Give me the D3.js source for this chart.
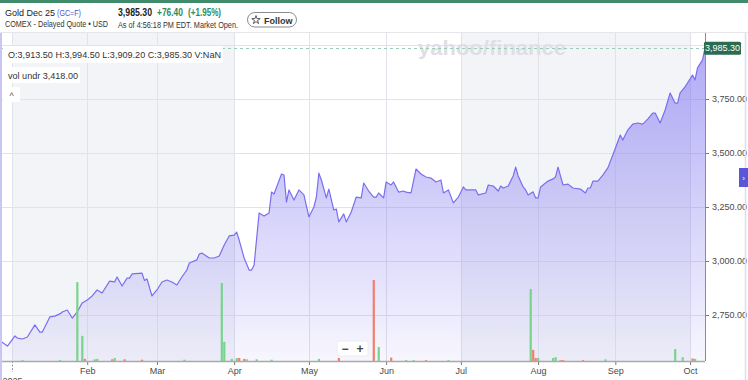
<!DOCTYPE html>
<html>
<head>
<meta charset="utf-8">
<script src="https://cdn.jsdelivr.net/npm/d3@7"></script>
<style>
html, body { margin: 0; padding: 0; background: #fff; }
svg { display: block; font-family: "Liberation Sans", Arial, sans-serif; }
</style>
</head>
<body>
<svg id="chart" width="748" height="380"></svg>
<script>
// Daily closes (Gold Dec 25, GC=F)
var priceDates = ["2024-12-27","2024-12-31","2025-01-03","2025-01-04","2025-01-06","2025-01-08","2025-01-11","2025-01-13","2025-01-14","2025-01-17","2025-01-19","2025-01-21","2025-01-22","2025-01-24","2025-01-26","2025-01-28","2025-01-30","2025-02-01","2025-02-02","2025-02-03","2025-02-05","2025-02-07","2025-02-10","2025-02-12","2025-02-13","2025-02-15","2025-02-17","2025-02-18","2025-02-19","2025-02-23","2025-02-24","2025-02-25","2025-02-27","2025-03-01","2025-03-03","2025-03-05","2025-03-07","2025-03-09","2025-03-11","2025-03-13","2025-03-14","2025-03-17","2025-03-18","2025-03-19","2025-03-22","2025-03-24","2025-03-26","2025-03-28","2025-03-30","2025-04-01","2025-04-02","2025-04-03","2025-04-05","2025-04-07","2025-04-08","2025-04-09","2025-04-11","2025-04-13","2025-04-15","2025-04-16","2025-04-17","2025-04-20","2025-04-21","2025-04-22","2025-04-23","2025-04-25","2025-04-27","2025-04-29","2025-05-01","2025-05-03","2025-05-04","2025-05-05","2025-05-06","2025-05-08","2025-05-09","2025-05-11","2025-05-12","2025-05-13","2025-05-15","2025-05-16","2025-05-18","2025-05-20","2025-05-22","2025-05-23","2025-05-25","2025-05-27","2025-05-28","2025-05-29","2025-05-31","2025-06-01","2025-06-03","2025-06-04","2025-06-06","2025-06-08","2025-06-09","2025-06-11","2025-06-13","2025-06-15","2025-06-17","2025-06-19","2025-06-21","2025-06-23","2025-06-24","2025-06-26","2025-06-28","2025-06-30","2025-07-02","2025-07-03","2025-07-07","2025-07-08","2025-07-11","2025-07-12","2025-07-14","2025-07-16","2025-07-17","2025-07-18","2025-07-20","2025-07-22","2025-07-23","2025-07-24","2025-07-26","2025-07-27","2025-07-28","2025-07-30","2025-07-31","2025-08-01","2025-08-02","2025-08-05","2025-08-07","2025-08-08","2025-08-09","2025-08-11","2025-08-13","2025-08-15","2025-08-18","2025-08-20","2025-08-21","2025-08-22","2025-08-23","2025-08-25","2025-08-27","2025-08-29","2025-08-31","2025-09-03","2025-09-04","2025-09-06","2025-09-08","2025-09-10","2025-09-12","2025-09-14","2025-09-16","2025-09-17","2025-09-19","2025-09-21","2025-09-23","2025-09-25","2025-09-26","2025-09-27","2025-09-29","2025-10-02","2025-10-03","2025-10-04","2025-10-06","2025-10-07"];
var priceValues = [2639,2606,2653,2643,2639,2648,2704,2671,2671,2741,2745,2755,2764,2773,2736,2764,2806,2819,2829,2838,2866,2852,2907,2903,2926,2884,2921,2921,2940,2944,2910,2917,2838,2866,2903,2912,2903,2889,2926,2958,2991,3005,3032,3037,3014,3014,3023,3074,3116,3120,3134,3097,3014,2958,2958,2981,3222,3208,3222,3319,3310,3403,3398,3273,3329,3282,3329,3306,3204,3250,3296,3407,3375,3292,3333,3236,3241,3181,3218,3181,3227,3296,3292,3361,3324,3296,3296,3315,3292,3366,3352,3366,3319,3324,3319,3315,3426,3403,3389,3384,3366,3375,3315,3329,3269,3296,3343,3329,3329,3306,3315,3352,3347,3324,3347,3338,3347,3394,3435,3394,3343,3329,3306,3320,3292,3292,3343,3370,3380,3389,3435,3352,3356,3338,3333,3315,3338,3338,3370,3370,3398,3431,3491,3583,3560,3606,3634,3639,3634,3657,3685,3685,3639,3699,3778,3731,3731,3778,3806,3861,3838,3894,3931,3985.3];

// Volume (thousands), true = up day
var volDates = ["2025-01-06","2025-01-21","2025-01-28","2025-01-30","2025-01-31","2025-02-04","2025-02-05","2025-02-11","2025-02-12","2025-02-16","2025-02-23","2025-03-12","2025-03-27","2025-03-28","2025-03-31","2025-04-02","2025-04-03","2025-04-05","2025-04-06","2025-04-10","2025-04-16","2025-05-05","2025-05-13","2025-05-27","2025-05-29","2025-06-03","2025-06-09","2025-06-12","2025-06-17","2025-06-26","2025-07-29","2025-07-30","2025-07-31","2025-08-01","2025-08-07","2025-08-08","2025-08-10","2025-08-11","2025-08-19","2025-08-28","2025-09-25","2025-09-28","2025-10-02","2025-10-03"];
var volValues = [2,2,185,59,5,4,5,4,7,4,3,3,183,45,5,7,7,5,4,4,3,5,7,190,33,8,2,2,2,2,169,26,7,7,7,9,2,2,2,4,28,9,6,5];
var volUp = [true,true,true,true,false,true,true,false,true,false,false,true,true,true,true,true,false,false,true,true,true,true,false,false,true,false,true,true,false,true,true,false,false,true,true,true,false,false,false,true,true,true,false,true];

var yTicks = [2750, 3000, 3250, 3500, 3750];
var yGrid = [2750, 3000, 3250, 3500, 3750, 4000];
var monthTicks = ["2025-02-01","2025-03-01","2025-04-01","2025-05-01","2025-06-01","2025-07-01","2025-08-01","2025-09-01","2025-10-01"];
var monthLabels = ["Feb","Mar","Apr","May","Jun","Jul","Aug","Sep","Oct"];
var yearTick = "2025-01-02";
var yearLabel = "2025";
var shadeBands = [["2025-01-02","2025-04-01"],["2025-07-01","2025-10-01"]];
var lastPrice = 3985.30;

var parse = d3.timeParse("%Y-%m-%d");
var data = priceDates.map(function(d, i) { return { date: parse(d), value: priceValues[i] }; });
var vols = volDates.map(function(d, i) { return { date: parse(d), value: volValues[i], up: volUp[i] }; });

var plotLeft = 0, plotRight = 705, plotTop = 33, plotBottom = 361;

var x = d3.scaleTime()
    .domain([parse("2024-12-28"), parse("2025-10-07")])
    .range([plotLeft, plotRight]);

var y = d3.scaleLinear()
    .domain([2750, 3750])
    .range([315, 99]);

var yVol = d3.scaleLinear()
    .domain([0, 190])
    .range([plotBottom, plotBottom - 81]);

var svg = d3.select('#chart');

// top green strip + header
svg.append('rect').attr('x', 0).attr('y', 0).attr('width', 748).attr('height', 3).attr('fill', '#3f8b6c');

var hdr = svg.append('g').attr('class', 'header');
hdr.append('text').attr('x', 5).attr('y', 15.5).attr('font-size', 9).attr('fill', '#222').text('Gold Dec 25');
hdr.append('text').attr('x', 57).attr('y', 15.5).attr('font-size', 9).attr('fill', '#4a55d4')
    .attr('textLength', 24).attr('lengthAdjust', 'spacingAndGlyphs').text('(GC=F)');
hdr.append('text').attr('x', 5).attr('y', 26.5).attr('font-size', 8.5).attr('fill', '#333')
    .attr('textLength', 103).attr('lengthAdjust', 'spacingAndGlyphs')
    .text('COMEX - Delayed Quote \u2022 USD');
hdr.append('text').attr('x', 118).attr('y', 16).attr('font-size', 10.5).attr('font-weight', 600).attr('fill', '#222')
    .attr('textLength', 34).attr('lengthAdjust', 'spacingAndGlyphs')
    .text(d3.format(',.2f')(lastPrice));
hdr.append('text').attr('x', 157).attr('y', 16).attr('font-size', 10).attr('font-weight', 700).attr('fill', '#2f8a5e')
    .attr('textLength', 26).attr('lengthAdjust', 'spacingAndGlyphs').text('+76.40');
hdr.append('text').attr('x', 188).attr('y', 16).attr('font-size', 10).attr('font-weight', 700).attr('fill', '#2f8a5e')
    .attr('textLength', 33).attr('lengthAdjust', 'spacingAndGlyphs').text('(+1.95%)');
hdr.append('text').attr('x', 118).attr('y', 27.5).attr('font-size', 8.5).attr('fill', '#333')
    .attr('textLength', 120).attr('lengthAdjust', 'spacingAndGlyphs')
    .text('As of 4:56:18 PM EDT. Market Open.');
hdr.append('rect').attr('x', 247.5).attr('y', 12.5).attr('width', 49).attr('height', 14.5).attr('rx', 7.25)
    .attr('fill', '#fff').attr('stroke', '#8a8a8a');
hdr.append('path').attr('transform', 'translate(256,20)')
    .attr('d', d3.symbol().type(d3.symbolStar).size(22)())
    .attr('fill', 'none').attr('stroke', '#333').attr('stroke-width', 0.8);
hdr.append('text').attr('x', 264).attr('y', 23.5).attr('font-size', 9).attr('font-weight', 700).attr('fill', '#333').text('Follow');

svg.append('line').attr('x1', 0).attr('x2', 748).attr('y1', 32.5).attr('y2', 32.5).attr('stroke', '#e6e6ea');

// quarter shading
svg.append('g').selectAll('rect').data(shadeBands).enter().append('rect')
    .attr('x', function(d) { return x(parse(d[0])); })
    .attr('y', plotTop)
    .attr('width', function(d) { return x(parse(d[1])) - x(parse(d[0])); })
    .attr('height', plotBottom - plotTop)
    .attr('fill', '#f3f4f8');

// grid lines
svg.append('g').selectAll('line').data(yGrid).enter().append('line')
    .attr('x1', plotLeft).attr('x2', plotRight)
    .attr('y1', function(d) { return Math.round(y(d)) + 0.5; })
    .attr('y2', function(d) { return Math.round(y(d)) + 0.5; })
    .attr('stroke', '#e1e3ea');
svg.append('g').selectAll('line').data([yearTick].concat(monthTicks)).enter().append('line')
    .attr('x1', function(d) { return Math.round(x(parse(d))) + 0.5; })
    .attr('x2', function(d) { return Math.round(x(parse(d))) + 0.5; })
    .attr('y1', plotTop).attr('y2', plotBottom)
    .attr('stroke', '#e1e3ea');

// area + line
var defs = svg.append('defs');
var grad = defs.append('linearGradient').attr('id', 'areaFill')
    .attr('gradientUnits', 'userSpaceOnUse')
    .attr('x1', 0).attr('x2', 0).attr('y1', y(lastPrice)).attr('y2', plotBottom);
grad.append('stop').attr('offset', '0%').attr('stop-color', '#7d72f0').attr('stop-opacity', 0.6);
grad.append('stop').attr('offset', '100%').attr('stop-color', '#7d72f0').attr('stop-opacity', 0.06);
defs.append('clipPath').attr('id', 'plotClip').append('rect')
    .attr('x', plotLeft).attr('y', plotTop).attr('width', plotRight - plotLeft).attr('height', plotBottom - plotTop);

var plot = svg.append('g').attr('clip-path', 'url(#plotClip)');
plot.append('path').datum(data)
    .attr('fill', 'url(#areaFill)')
    .attr('d', d3.area().x(function(d) { return x(d.date); }).y0(plotBottom).y1(function(d) { return y(d.value); }));
plot.append('path').datum(data)
    .attr('fill', 'none').attr('stroke', '#7a6ef0').attr('stroke-width', 1.2).attr('stroke-linejoin', 'round')
    .attr('d', d3.line().x(function(d) { return x(d.date); }).y(function(d) { return y(d.value); }));

// volume bars
plot.append('g').selectAll('rect').data(vols).enter().append('rect')
    .attr('x', function(d) { return x(d.date) - 1; })
    .attr('width', 2.2)
    .attr('y', function(d) { return yVol(d.value); })
    .attr('height', function(d) { return plotBottom - yVol(d.value); })
    .attr('fill', function(d) { return d.up ? '#78d48d' : '#ef7f6e'; });

// watermark
svg.append('text').attr('x', 492).attr('y', 55).attr('text-anchor', 'middle')
    .attr('font-size', 20).attr('font-weight', 700).attr('fill', '#dedee5')
    .attr('textLength', 148).attr('lengthAdjust', 'spacingAndGlyphs')
    .text('yahoo/finance');

// last price dashed line
svg.append('line').attr('x1', plotLeft).attr('x2', plotRight)
    .attr('y1', Math.round(y(lastPrice)) + 0.5).attr('y2', Math.round(y(lastPrice)) + 0.5)
    .attr('stroke', '#9fcab6').attr('stroke-dasharray', '3,3');

// axes
var yAxis = svg.append('g').attr('transform', 'translate(' + plotRight + ',0)')
    .call(d3.axisRight(y).tickValues(yTicks).tickSize(4).tickPadding(3).tickFormat(d3.format(',.2f')));
yAxis.select('.domain').remove();
yAxis.selectAll('line').attr('stroke', '#777');
yAxis.selectAll('text').attr('font-size', 9).attr('fill', '#4a4a4a').attr('font-family', 'Liberation Sans, Arial, sans-serif');

var xAxis = svg.append('g').attr('transform', 'translate(0,' + plotBottom + ')')
    .call(d3.axisBottom(x).tickValues(monthTicks.map(parse)).tickSize(4).tickPadding(3)
        .tickFormat(function(d, i) { return monthLabels[i]; }));
xAxis.select('.domain').remove();
xAxis.selectAll('line').attr('stroke', '#777');
xAxis.selectAll('text').attr('font-size', 9).attr('fill', '#4a4a4a').attr('font-family', 'Liberation Sans, Arial, sans-serif');

// year marker
var yx = Math.round(x(parse(yearTick))) + 0.5;
svg.append('line').attr('x1', yx).attr('x2', yx).attr('y1', plotBottom).attr('y2', plotBottom + 11)
    .attr('stroke', '#999').attr('stroke-dasharray', '2,1.5');
svg.append('text').attr('x', yx).attr('y', 384).attr('text-anchor', 'middle')
    .attr('font-size', 9).attr('fill', '#4a4a4a').text(yearLabel);

// axis frame
svg.append('line').attr('x1', plotLeft).attr('x2', plotRight).attr('y1', plotBottom + 0.5).attr('y2', plotBottom + 0.5)
    .attr('stroke', '#a9a9ad').attr('stroke-width', 1.5);
svg.append('line').attr('x1', plotRight + 0.5).attr('x2', plotRight + 0.5).attr('y1', plotTop).attr('y2', plotBottom)
    .attr('stroke', '#8c8c90');

// last price badge
var by = y(lastPrice);
svg.append('rect').attr('x', 704).attr('y', by - 6.5).attr('width', 37).attr('height', 13).attr('rx', 1.5).attr('fill', '#2b6b50');
svg.append('text').attr('x', 722.5).attr('y', by + 3.2).attr('text-anchor', 'middle')
    .attr('font-size', 9).attr('fill', '#fff').text(d3.format(',.2f')(lastPrice));

// OHLC legend boxes
svg.append('rect').attr('x', 3).attr('y', 46).attr('width', 220).attr('height', 17).attr('rx', 2).attr('fill', '#fff');
svg.append('text').attr('x', 8).attr('y', 58).attr('font-size', 9).attr('fill', '#333')
    .attr('textLength', 213).attr('lengthAdjust', 'spacingAndGlyphs')
    .text('O:3,913.50  H:3,994.50  L:3,909.20  C:3,985.30  V:NaN');
svg.append('rect').attr('x', 3).attr('y', 67).attr('width', 77).attr('height', 16).attr('rx', 2).attr('fill', '#fff');
svg.append('text').attr('x', 8).attr('y', 78.5).attr('font-size', 9).attr('fill', '#333')
    .attr('textLength', 70).attr('lengthAdjust', 'spacingAndGlyphs')
    .text('vol undr  3,418.00');
svg.append('rect').attr('x', 3).attr('y', 87).attr('width', 17).attr('height', 15).attr('rx', 2).attr('fill', '#fff');
svg.append('text').attr('x', 11.5).attr('y', 99).attr('text-anchor', 'middle').attr('font-size', 9).attr('fill', '#555').text('^');

// zoom control
svg.append('rect').attr('x', 337).attr('y', 341).attr('width', 31).attr('height', 15).attr('rx', 2)
    .attr('fill', '#fff').attr('stroke', '#ececf0');
svg.append('text').attr('x', 345).attr('y', 352.5).attr('text-anchor', 'middle').attr('font-size', 12).attr('font-weight', 700).attr('fill', '#444').text('\u2212');
svg.append('text').attr('x', 360).attr('y', 352.5).attr('text-anchor', 'middle').attr('font-size', 12).attr('font-weight', 700).attr('fill', '#444').text('+');

// side borders and tab
svg.append('line').attr('x1', 1).attr('x2', 1).attr('y1', 33).attr('y2', 380).attr('stroke', '#c9c6f3').attr('stroke-width', 2);
svg.append('line').attr('x1', 745.5).attr('x2', 745.5).attr('y1', 33).attr('y2', 380).attr('stroke', '#dcdaf6').attr('stroke-width', 1.5);
svg.append('rect').attr('x', 739).attr('y', 168).attr('width', 9).attr('height', 19).attr('fill', '#5a56da');
svg.append('text').attr('x', 743.5).attr('y', 180.5).attr('text-anchor', 'middle').attr('font-size', 8).attr('fill', '#fff').text('\u203A');
</script>
</body>
</html>
